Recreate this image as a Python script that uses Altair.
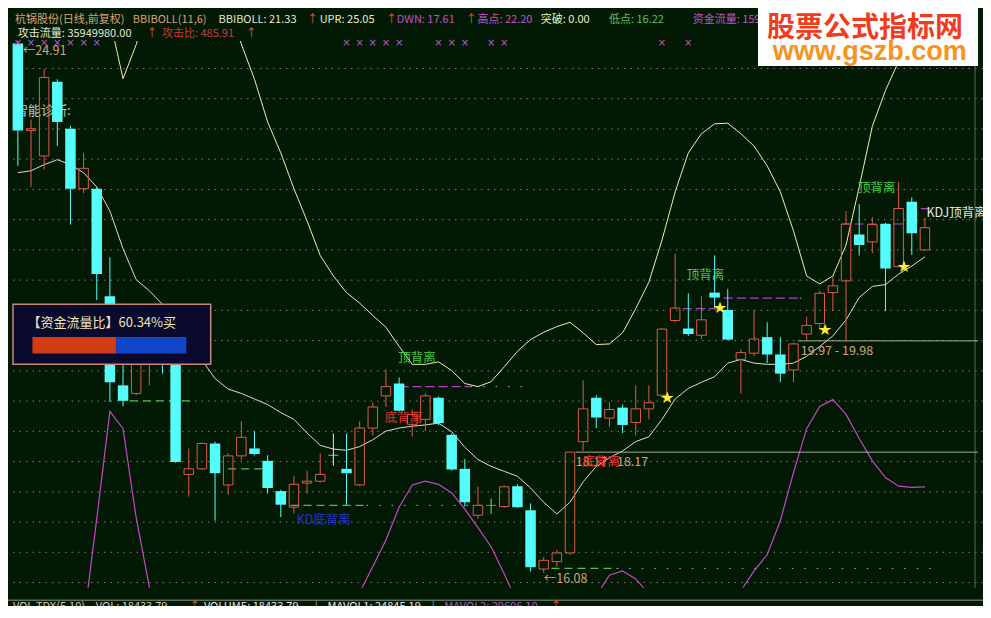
import altair as alt
import pandas as pd

# ---------------- data (杭锅股份 日线 前复权) ----------------
opens  = [24.78, 23.37, 22.96, 24.16, 23.40, 22.43, 22.43, 20.69, 19.25, 19.12,
          19.59, 19.95, 20.35, 17.81, 17.90, 18.31, 17.64, 18.11, 18.23, 18.03,
          17.54, 17.28, 17.67, 17.70, 18.12, 17.90, 17.64, 18.56, 19.08, 19.28,
          18.62, 18.70, 19.05, 18.45, 17.90, 17.15, 17.31, 17.29, 17.62, 17.23,
          16.28, 16.40, 16.54, 18.34, 19.05, 18.72, 18.89, 18.65, 18.87, 19.09,
          20.30, 20.17, 20.06, 20.75, 20.47, 19.67, 19.77, 20.03, 19.75, 19.50,
          20.08, 20.25, 20.75, 20.94, 21.69, 21.57, 21.86, 21.17, 22.22, 21.44]
highs  = [24.91, 23.55, 24.37, 24.20, 23.45, 23.01, 22.45, 21.32, 19.59, 20.03,
          20.11, 20.19, 20.45, 18.23, 18.33, 18.34, 18.15, 18.67, 18.51, 18.12,
          17.56, 17.79, 17.87, 18.15, 18.47, 18.47, 18.67, 18.97, 19.51, 19.38,
          18.86, 19.12, 19.07, 18.47, 18.06, 17.61, 17.42, 17.63, 17.65, 17.34,
          16.47, 16.59, 18.17, 19.33, 19.09, 18.98, 18.94, 19.25, 19.25, 20.18,
          21.38, 20.74, 20.69, 21.35, 20.81, 19.83, 20.47, 20.27, 20.03, 19.94,
          20.36, 20.78, 21.02, 22.07, 22.18, 21.97, 21.88, 22.54, 22.29, 21.96]
lows   = [22.80, 22.46, 22.74, 23.12, 21.85, 22.36, 20.63, 18.98, 18.91, 19.09,
          19.25, 19.44, 18.00, 17.45, 17.88, 17.06, 17.48, 18.04, 18.12, 17.50,
          17.12, 17.18, 17.50, 17.68, 17.95, 17.32, 17.62, 18.44, 18.90, 18.83,
          18.42, 18.51, 18.61, 17.87, 17.29, 17.09, 17.17, 17.27, 17.27, 16.24,
          16.22, 16.32, 16.51, 18.19, 18.56, 18.58, 18.48, 18.44, 18.70, 19.05,
          20.27, 20.05, 20.00, 20.50, 19.98, 19.12, 19.72, 19.61, 19.30, 19.30,
          19.99, 20.14, 20.45, 19.98, 21.35, 21.39, 20.45, 21.16, 21.36, 21.44]
closes = [23.37, 23.40, 24.23, 23.51, 22.43, 22.76, 21.05, 19.30, 19.00, 19.80,
          19.95, 19.84, 18.01, 17.90, 18.31, 17.83, 18.11, 18.41, 18.14, 17.59,
          17.32, 17.65, 17.70, 17.81, 18.12, 17.83, 18.56, 18.90, 19.23, 18.84,
          18.78, 19.08, 18.64, 17.89, 17.36, 17.31, 17.31, 17.61, 17.28, 16.31,
          16.42, 16.54, 18.17, 18.87, 18.73, 18.86, 18.61, 18.87, 18.97, 20.16,
          20.50, 20.08, 20.31, 20.67, 19.99, 19.78, 20.00, 19.75, 19.44, 19.92,
          20.22, 20.74, 20.86, 21.86, 21.52, 21.85, 21.14, 22.11, 21.71, 21.80]

# BBIBOLL middle line
bbi = [22.69, 22.72, 22.82, 22.90, 22.82, 22.69, 22.46, 22.07, 21.46, 20.96,
       20.78, 20.56, 20.25, 19.94, 19.66, 19.36, 19.19, 19.12, 19.03, 18.94,
       18.81, 18.70, 18.48, 18.28, 18.22, 18.20, 18.26, 18.37, 18.51, 18.56,
       18.59, 18.61, 18.64, 18.50, 18.25, 18.05, 17.94, 17.86, 17.78, 17.59,
       17.36, 17.17, 17.36, 17.69, 17.94, 18.08, 18.19, 18.34, 18.42, 18.70,
       19.03, 19.20, 19.30, 19.39, 19.61, 19.67, 19.61, 19.59, 19.59, 19.61,
       19.72, 19.88, 20.05, 20.31, 20.67, 20.85, 20.88, 21.05, 21.18, 21.33]
# UPR band (starts at candle 7)
upr_start = 7
upr = [25.17, 24.21, 24.76, 25.45, 25.70, 25.85, 25.90, 25.85, 25.70, 25.40,
       24.77, 24.20, 23.51, 23.01, 22.43, 21.91, 21.35, 21.02, 20.75, 20.58,
       20.38, 20.19, 19.88, 19.59, 19.59, 19.63, 19.49, 19.28, 19.23, 19.31,
       19.55, 19.80, 19.99, 20.11, 20.20, 20.27, 20.10, 19.91, 19.92, 20.10,
       20.49, 20.92, 21.60, 22.38, 23.01, 23.32, 23.48, 23.49, 23.32, 23.12,
       22.80, 22.38, 21.75, 21.02, 20.89, 21.02, 21.52, 22.46, 23.44, 24.02,
       24.49, 24.80, 25.05]
# DWN band
dwn = [14.80, 14.60, 14.50, 14.60, 15.00, 15.40, 17.09, 18.83, 18.55, 17.11,
       15.99, 15.00, 14.70, 14.50, 14.40, 14.40, 14.50, 14.60, 14.70, 14.80,
       14.90, 15.00, 15.10, 15.20, 15.30, 15.48, 15.90, 16.32, 16.75, 17.28,
       17.64, 17.70, 17.65, 17.51, 17.25, 16.95, 16.64, 16.20, 15.73, 15.30,
       15.00, 14.90, 15.00, 15.40, 15.85, 16.18, 16.25, 16.12, 15.88, 15.40,
       15.00, 14.80, 14.90, 15.10, 15.34, 15.93, 16.25, 16.51, 17.06, 17.84,
       18.55, 18.91, 19.02, 18.78, 18.39, 18.03, 17.76, 17.62, 17.60, 17.61]

grid_levels = [24.375, 23.886, 23.397, 22.908, 22.419, 21.930, 21.441, 20.952, 20.463,
               19.974, 19.485, 18.996, 18.507, 18.017, 17.528, 17.039, 16.550, 16.061]

star_idx = [49, 53, 61, 67]
cross_idx = [0, 1, 2, 3, 4, 5, 6, 25, 26, 27, 28, 29, 32, 33, 34, 36, 37, 49, 51]

# horizontal signal lines: (from candle, to candle, price)
green_dash = [(8.52, 13.48, 19.00), (16.0, 19.41, 17.90), (20.74, 26.52, 17.31), (40.59, 45.56, 16.29)]
dot_ext = [(26.52, 36.0, 17.31), (45.56, 69.5, 16.29), (34.44, 38.9, 19.23), (59.48, 60.2, 20.66)]
purple_dash = [(29.04, 34.44, 19.23), (50.59, 53.19, 20.49), (53.70, 59.48, 20.66),
               (62.67, 67.56, 21.86), (67.70, 69.56, 22.11)]
gray_solid = [(42.44, 73.04, 18.17), (59.33, 73.04, 19.97)]

flow_ratio_text = "【资金流量比】60.34%买"

# ---------------- styling ----------------
BG = "#021a04"
CYAN = "#54fcfc"
RED = "#e0584a"
CJK = "Noto Sans CJK SC"
W, H = 975, 598
XS = alt.Scale(domain=[-0.370, 73.037], nice=False, zero=False)
YS = alt.Scale(domain=[15.682, 25.353], nice=False, zero=False)


def X(f):
    return alt.X(f, type="quantitative", scale=XS, axis=None)


def Y(f):
    return alt.Y(f, type="quantitative", scale=YS, axis=None)


n = len(opens)
df = pd.DataFrame({"i": list(range(n)), "o": opens, "h": highs, "l": lows, "c": closes})
df["top"] = df[["o", "c"]].max(axis=1)
df["bot"] = df[["o", "c"]].min(axis=1)
up = df[df.c > df.o]
dn = df[df.c < df.o]
dj = df[df.c == df.o].copy()
dj["col"] = dj["i"].map({24: "#e8e8e8", 36: "#78d878"}).fillna("#e8e8e8")

layers = []

# grid
layers.append(alt.Chart(pd.DataFrame({"p": grid_levels})).mark_rule(
    color="#7c7c7c", strokeDash=[1.5, 5], strokeWidth=1).encode(y=Y("p")))
layers.append(alt.Chart(pd.DataFrame({"x": [72.81]})).mark_rule(
    color="#5a6a5a", strokeWidth=1).encode(x=X("x")))

# text under candles
layers.append(alt.Chart(pd.DataFrame({"x": [-0.22], "y": [23.69], "t": ["智能诊断:"]})).mark_text(
    align="left", baseline="middle", font=CJK, fontSize=13, color="#b8c4b4").encode(
    x=X("x"), y=Y("y"), text="t:N"))

# indicator lines
layers.append(alt.Chart(pd.DataFrame({"i": list(range(upr_start, upr_start + len(upr))), "v": upr}))
              .mark_line(clip=True, color="#eeeea8", strokeWidth=1).encode(x=X("i"), y=Y("v")))
layers.append(alt.Chart(pd.DataFrame({"i": list(range(n)), "v": bbi}))
              .mark_line(clip=True, color="#dcdcd0", strokeWidth=1).encode(x=X("i"), y=Y("v")))
layers.append(alt.Chart(pd.DataFrame({"i": list(range(n)), "v": dwn}))
              .mark_line(clip=True, color="#c844c8", strokeWidth=1.2).encode(x=X("i"), y=Y("v")))


def hseg(rows, color, dash, width=1.0):
    d = pd.DataFrame(rows, columns=["x1", "x2", "p"])
    kw = dict(color=color, strokeWidth=width)
    if dash:
        kw["strokeDash"] = dash
    return alt.Chart(d).mark_rule(**kw).encode(x=X("x1"), x2=alt.X2("x2"), y=Y("p"))


layers.append(hseg(dot_ext, "#b4b4b4", [1.5, 11]))
layers.append(hseg(green_dash, "#4cc04c", [8, 5], 1.2))
layers.append(hseg(purple_dash, "#b440c8", [9, 4], 1.2))
layers.append(hseg(gray_solid, "#a8a8a0", None, 1.0))

# candles
layers.append(alt.Chart(dn).mark_rule(color=CYAN, strokeWidth=1).encode(
    x=X("i"), y=Y("l"), y2=alt.Y2("h")))
layers.append(alt.Chart(dn).mark_bar(size=10.5, color=CYAN).encode(
    x=X("i"), y=Y("o"), y2=alt.Y2("c")))
layers.append(alt.Chart(up).mark_rule(color=RED, strokeWidth=1).encode(
    x=X("i"), y=Y("top"), y2=alt.Y2("h")))
layers.append(alt.Chart(up).mark_rule(color=RED, strokeWidth=1).encode(
    x=X("i"), y=Y("l"), y2=alt.Y2("bot")))
layers.append(alt.Chart(up).mark_bar(size=9.5, fillOpacity=0, stroke=RED, strokeWidth=1).encode(
    x=X("i"), y=Y("o"), y2=alt.Y2("c")))
layers.append(alt.Chart(dj).mark_rule(strokeWidth=1).encode(
    x=X("i"), y=Y("l"), y2=alt.Y2("h"), color=alt.Color("col:N", scale=None)))
layers.append(alt.Chart(dj).mark_tick(orient="horizontal", size=10, thickness=1).encode(
    x=X("i"), y=Y("o"), color=alt.Color("col:N", scale=None)))

# stars at lows
stars = pd.DataFrame({"x": [k + 0.4 for k in star_idx], "y": [lows[k] for k in star_idx]})
layers.append(alt.Chart(stars).mark_text(text="★", font="DejaVu Sans", fontSize=16,
                                         color="#fff03a", baseline="middle").encode(x=X("x"), y=Y("y")))

# annotations
ann_center = pd.DataFrame([
    (30.37, 19.69, "顶背离", "#44cc44"),
    (29.33, 18.72, "底背离", "#e83232"),
    (23.26, 17.07, "KD底背离", "#2834c4"),
    (52.30, 21.03, "顶背离", "#44cc44"),
    (65.33, 22.44, "顶背离", "#44cc44"),
], columns=["x", "y", "t", "c"])
layers.append(alt.Chart(ann_center).mark_text(align="center", baseline="middle", font=CJK, fontSize=12.5).encode(
    x=X("x"), y=Y("y"), text="t:N", color=alt.Color("c:N", scale=None)))
ann_left = pd.DataFrame([
    (42.44, 18.01, "18.17 - 18.17", "#d2a27a"),
    (42.96, 18.01, "底背离", "#e83232"),
    (59.56, 19.80, "19.97 - 19.98", "#d2a27a"),
    (40.00, 16.12, "←16.08", "#d2a27a"),
    (0.37, 24.66, "←24.91", "#d2a27a"),
    (69.11, 22.03, "KDJ顶背离", "#e6e6e6"),
], columns=["x", "y", "t", "c"])
layers.append(alt.Chart(ann_left).mark_text(align="left", baseline="middle", font=CJK, fontSize=12.5, clip=True).encode(
    x=X("x"), y=Y("y"), text="t:N", color=alt.Color("c:N", scale=None)))

# header band and texts
layers.append(alt.Chart(pd.DataFrame({"x1": [-0.37], "x2": [73.04], "y1": [24.821], "y2": [25.353]}))
              .mark_rect(color=BG).encode(x=X("x1"), x2=alt.X2("x2"), y=Y("y1"), y2=alt.Y2("y2")))
crosses = pd.DataFrame({"x": cross_idx, "y": [24.78] * len(cross_idx)})
layers.append(alt.Chart(crosses).mark_text(text="×", font="DejaVu Sans", fontSize=10, color="#c050d4",
                                           baseline="middle").encode(x=X("x"), y=Y("y")))
header = pd.DataFrame([
    (-0.22, 25.165, "杭锅股份(日线,前复权)", "#dba274"),
    (8.74, 25.165, "BBIBOLL(11,6)", "#dba274"),
    (15.26, 25.165, "BBIBOLL: 21.33", "#e6e6cc"),
    (22.00, 25.165, "↑", "#e8503e"),
    (22.96, 25.165, "UPR: 25.05", "#ececc8"),
    (28.00, 25.165, "↑", "#e8503e"),
    (28.82, 25.165, "DWN: 17.61", "#c050c8"),
    (34.07, 25.165, "↑", "#e8503e"),
    (34.96, 25.165, "高点: 22.20", "#d050d0"),
    (39.78, 25.165, "突破: 0.00", "#f0f0c0"),
    (44.96, 25.165, "低点: 16.22", "#5cc05c"),
    (51.33, 25.165, "资金流量: 15933261.00", "#c050c8"),
    (0.00, 24.93, "攻击流量: 35949980.00", "#e6e6d6"),
    (9.78, 24.93, "↑", "#e8503e"),
    (10.96, 24.93, "攻击比: 485.91", "#c83a3a"),
    (17.33, 24.93, "↑", "#e8503e"),
], columns=["x", "y", "t", "c"])
layers.append(alt.Chart(header).mark_text(align="left", baseline="middle", font=CJK, fontSize=11).encode(
    x=X("x"), y=Y("y"), text="t:N", color=alt.Color("c:N", scale=None)))

# bottom band (volume pane header)
layers.append(alt.Chart(pd.DataFrame({"x1": [-0.37], "x2": [73.04], "y1": [15.682], "y2": [15.979]}))
              .mark_rect(color=BG).encode(x=X("x1"), x2=alt.X2("x2"), y=Y("y1"), y2=alt.Y2("y2")))
layers.append(alt.Chart(pd.DataFrame({"p": [15.776]})).mark_rule(color="#5a705a", strokeWidth=1.5).encode(y=Y("p")))
status = pd.DataFrame([
    (-0.37, "VOL-TDX(5,10)", "#d8c8a8"),
    (5.93, "VOL: 18433.79", "#d8c8a8"),
    (13.04, "↑", "#e8503e"),
    (14.15, "VOLUME: 18433.79", "#e6e6e6"),
    (22.59, "|", "#a0a0a0"),
    (23.56, "MAVOL1: 24845.19", "#e6e6e6"),
    (31.48, "|", "#a0a0a0"),
    (32.44, "MAVOL2: 29606.10", "#c050c8"),
    (40.52, "↑", "#e8503e"),
], columns=["x", "t", "c"])
status["y"] = 15.762
layers.append(alt.Chart(status).mark_text(align="left", baseline="top", font=CJK, fontSize=11).encode(
    x=X("x"), y=Y("y"), text="t:N", color=alt.Color("c:N", scale=None)))

# money-flow ratio box
layers.append(alt.Chart(pd.DataFrame({"x1": [-0.37], "x2": [14.67], "y1": [19.59], "y2": [20.56]}))
              .mark_rect(fill="#0a0a2e", stroke="#c88878", strokeWidth=1.5).encode(
    x=X("x1"), x2=alt.X2("x2"), y=Y("y1"), y2=alt.Y2("y2")))
layers.append(alt.Chart(pd.DataFrame({"x": [0.74], "y": [20.252], "t": [flow_ratio_text]})).mark_text(
    align="left", baseline="middle", font=CJK, fontSize=13, color="#f0e4b8").encode(x=X("x"), y=Y("y"), text="t:N"))
bars = pd.DataFrame([(1.11, 7.48, "#d23c14"), (7.48, 12.81, "#1246c8")], columns=["x1", "x2", "c"])
bars["y1"] = 19.766
bars["y2"] = 20.032
layers.append(alt.Chart(bars).mark_rect().encode(
    x=X("x1"), x2=alt.X2("x2"), y=Y("y1"), y2=alt.Y2("y2"), color=alt.Color("c:N", scale=None)))

# watermark
layers.append(alt.Chart(pd.DataFrame({"x1": [56.30], "x2": [73.04], "y1": [24.414], "y2": [25.353]}))
              .mark_rect(color="#ffffff").encode(x=X("x1"), x2=alt.X2("x2"), y=Y("y1"), y2=alt.Y2("y2")))
layers.append(alt.Chart(pd.DataFrame({"x": [64.44], "y": [25.02], "t": ["股票公式指标网"]})).mark_text(
    align="center", baseline="middle", font=CJK, fontSize=28, fontWeight="bold", color="#f03c1e").encode(
    x=X("x"), y=Y("y"), text="t:N"))
layers.append(alt.Chart(pd.DataFrame({"x": [64.81], "y": [24.635], "t": ["www.gszb.com"]})).mark_text(
    align="center", baseline="middle", font="Liberation Sans", fontSize=27, fontWeight="bold", color="#f7941d").encode(
    x=X("x"), y=Y("y"), text="t:N"))

chart = alt.layer(*layers).properties(
    width=W, height=H, padding=0, background=BG,
    autosize=alt.AutoSizeParams(type="none"),
).configure_view(stroke="transparent", fill=BG)

chart.save("out.html", embed_options={"renderer": "svg", "actions": False})
